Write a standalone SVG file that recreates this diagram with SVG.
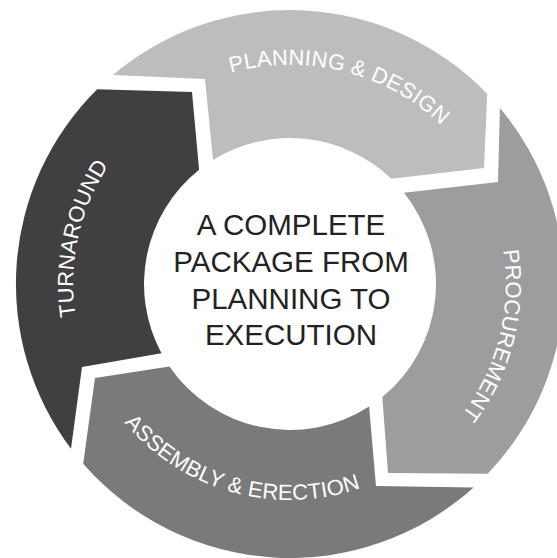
<svg xmlns="http://www.w3.org/2000/svg" width="557" height="558" viewBox="0 0 557 558">
  <style>
    .lbl { font-family: "Liberation Sans", Arial, sans-serif; font-size: 22px; fill: #ffffff; letter-spacing: 0.2px; }
    .ctr { font-family: "Liberation Sans", Arial, sans-serif; font-size: 29.5px; fill: #222222; text-anchor: middle; }
  </style>
  <defs>
    <path id="arcPlan" d="M 82.9 212.7 A 219 219 0 0 1 506.3 318.3"/>
    <path id="arcProc" d="M 361.0 80.0 A 216 216 0 0 1 255.5 497.2"/>
    <path id="arcAsm" d="M 77.6 244.6 A 216 216 0 0 0 492.3 359.6"/>
    <path id="arcTurn" d="M 225.5 491.2 A 217 217 0 0 1 317.6 68.8"/>
  </defs>
  <rect width="557" height="558" fill="#ffffff"/>

  <g id="planning-design">
    <path fill="#bdbdbd" d="M 113 75 A 274 274 0 0 1 487.2 93.8 L 484 168 L 391.2 178.8 A 146 146 0 0 0 213 160 L 205 79 Z"/>
    <text class="lbl"><textPath href="#arcPlan" startOffset="50%" text-anchor="middle">PLANNING &amp; DESIGN</textPath></text>
  </g>

  <g id="procurement">
    <path fill="#9d9d9d" d="M 499.9 107.9 A 274 274 0 0 1 487.7 473.7 L 388 473 L 382.3 397.1 A 146 146 0 0 0 404 192.8 L 498 182 Z"/>
    <text class="lbl"><textPath href="#arcProc" startOffset="50%" text-anchor="middle">PROCUREMENT</textPath></text>
  </g>

  <g id="assembly-erection">
    <path fill="#7a7a7a" d="M 473.6 487.4 A 274 274 0 0 1 83.2 463.7 L 95 378 L 169.4 366.4 A 146 146 0 0 0 369.1 406.6 L 376 486 Z"/>
    <text class="lbl"><textPath href="#arcAsm" startOffset="50%" text-anchor="middle">ASSEMBLY &amp; ERECTION</textPath></text>
  </g>

  <g id="turnaround">
    <path fill="#404040" d="M 71 448.7 A 274 274 0 0 1 97.2 89.2 L 192 92 L 199.1 169.8 A 146 146 0 0 0 161.5 353.3 L 82 367 Z"/>
    <text class="lbl"><textPath href="#arcTurn" startOffset="50%" text-anchor="middle">TURNAROUND</textPath></text>
  </g>

  <g id="center">
    <text class="ctr" x="291" y="235">A COMPLETE</text>
    <text class="ctr" x="291" y="272">PACKAGE FROM</text>
    <text class="ctr" x="291" y="309">PLANNING TO</text>
    <text class="ctr" x="291" y="345">EXECUTION</text>
  </g>

  <g id="connectors"/>
</svg>
